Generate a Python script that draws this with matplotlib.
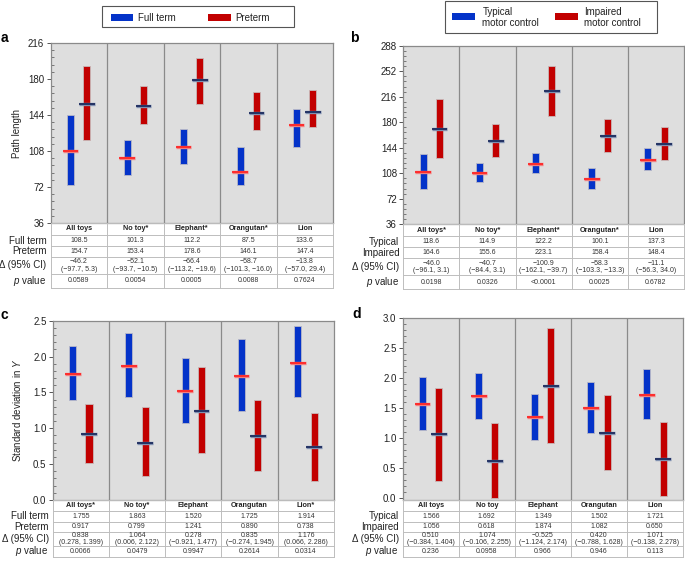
import matplotlib
matplotlib.use("Agg")
import matplotlib.pyplot as plt
from matplotlib.patches import Rectangle
from matplotlib.ticker import MultipleLocator, FormatStrFormatter

plt.rcParams['font.family'] = ['Liberation Sans', 'DejaVu Sans']
plt.rcParams['mathtext.fontset'] = 'custom'
plt.rcParams['mathtext.rm'] = 'Liberation Sans'
plt.rcParams['mathtext.it'] = 'Liberation Sans:italic'

W, H = 685, 570

# ---------------- data ----------------
# Panel a: path length, full term vs preterm
a_cats = ["All toys", "No toy*", "Elephant*", "Orangutan*", "Lion"]
a_g1_mean = [108.5, 101.3, 112.2, 87.5, 133.6]
a_g1_lo = [74, 84, 95, 74, 112]
a_g1_hi = [144, 119, 130, 112, 150]
a_g2_mean = [154.7, 153.4, 178.6, 146.1, 147.4]
a_g2_lo = [119, 135, 155, 129, 132]
a_g2_hi = [193, 173, 201, 167, 169]
a_row1 = ["108.5", "101.3", "112.2", "87.5", "133.6"]
a_row2 = ["154.7", "153.4", "178.6", "146.1", "147.4"]
a_delta = ["\u221246.2\n(\u221297.7, 5.3)", "\u221252.1\n(\u221293.7, \u221210.5)",
           "\u221266.4\n(\u2212113.2, \u221219.6)", "\u221258.7\n(\u2212101.3, \u221216.0)",
           "\u221213.8\n(\u221257.0, 29.4)"]
a_p = ["0.0589", "0.0054", "0.0005", "0.0088", "0.7624"]

# Panel b: path length, typical vs impaired motor control
b_cats = ["All toys*", "No toy*", "Elephant*", "Orangutan*", "Lion"]
b_g1_mean = [110, 109, 121, 100, 127]
b_g1_lo = [86, 95, 108, 86, 112]
b_g1_hi = [135, 123, 136, 116, 143]
b_g2_mean = [171, 153, 224, 160, 149]
b_g2_lo = [129, 131, 189, 138, 127]
b_g2_hi = [213, 177, 259, 184, 173]
b_row1 = ["118.6", "114.9", "122.2", "100.1", "137.3"]
b_row2 = ["164.6", "155.6", "223.1", "158.4", "148.4"]
b_delta = ["\u221246.0\n(\u221296.1, 3.1)", "\u221240.7\n(\u221284.4, 3.1)",
           "\u2212100.9\n(\u2212162.1, \u221239.7)", "\u221258.3\n(\u2212103.3, \u221213.3)",
           "\u221211.1\n(\u221256.3, 34.0)"]
b_p = ["0.0198", "0.0326", "<0.0001", "0.0025", "0.6782"]

# Panel c: SD in Y, full term vs preterm
c_cats = ["All toys*", "No toy*", "Elephant", "Orangutan", "Lion*"]
c_g1_mean = [1.755, 1.863, 1.520, 1.725, 1.914]
c_g1_lo = [1.40, 1.43, 1.08, 1.24, 1.43]
c_g1_hi = [2.15, 2.33, 1.98, 2.24, 2.43]
c_g2_mean = [0.917, 0.799, 1.241, 0.890, 0.738]
c_g2_lo = [0.52, 0.33, 0.65, 0.41, 0.27]
c_g2_hi = [1.34, 1.29, 1.85, 1.39, 1.22]
c_row1 = ["1.755", "1.863", "1.520", "1.725", "1.914"]
c_row2 = ["0.917", "0.799", "1.241", "0.890", "0.738"]
c_delta = ["0.838\n(0.278, 1.399)", "1.064\n(0.006, 2.122)", "0.278\n(\u22120.921, 1.477)",
           "0.835\n(\u22120.274, 1.945)", "1.176\n(0.066, 2.286)"]
c_p = ["0.0066", "0.0479", "0.9947", "0.2614", "0.0314"]

# Panel d: SD in Y, typical vs impaired motor control
d_cats = ["All toys", "No toy", "Elephant", "Orangutan", "Lion"]
d_g1_mean = [1.566, 1.692, 1.349, 1.502, 1.721]
d_g1_lo = [1.13, 1.31, 0.97, 1.08, 1.31]
d_g1_hi = [2.02, 2.09, 1.74, 1.93, 2.15]
d_g2_mean = [1.056, 0.618, 1.874, 1.082, 0.650]
d_g2_lo = [0.28, 0.0, 0.92, 0.46, 0.03]
d_g2_hi = [1.83, 1.24, 2.84, 1.71, 1.27]
d_row1 = ["1.566", "1.692", "1.349", "1.502", "1.721"]
d_row2 = ["1.056", "0.618", "1.874", "1.082", "0.650"]
d_delta = ["0.510\n(\u22120.384, 1.404)", "1.074\n(\u22120.106, 2.255)", "\u22120.525\n(\u22121.124, 2.174)",
           "0.420\n(\u22120.788, 1.628)", "1.071\n(\u22120.138, 2.278)"]
d_p = ["0.236", "0.0958", "0.966", "0.946", "0.113"]

BLUE = '#0433c9'
RED = '#c20000'
MEAN_ON_BLUE = '#ff2626'
MEAN_ON_RED = '#1c2b5e'
BG = '#dedede'
GRID = '#8a8a8a'
TXT = '#222222'

fig = plt.figure(figsize=(W / 100, H / 100), dpi=100)


def px_axes(x0, y0, x1, y1):
    return fig.add_axes([x0 / W, 1 - y1 / H, (x1 - x0) / W, (y1 - y0) / H])


def panel(rect, ylim, yticks, minor, fmt, g1, g2, table, row_labels, rows):
    x0, y0, x1, y1 = rect
    ax = px_axes(x0, y0, x1, y1)
    ax.set_facecolor(BG)
    n = len(table[0])
    ax.set_xlim(0, n)
    ax.set_ylim(*ylim)
    for s in ax.spines.values():
        s.set_color(GRID)
        s.set_linewidth(0.9)
    for k in range(1, n):
        ax.axvline(k, color=GRID, lw=0.9, zorder=1)
    xs = [i + 0.5 for i in range(n)]
    off, bw, hw = 0.145, 0.125, 0.14
    m1, lo1, hi1 = g1
    m2, lo2, hi2 = g2
    xb = [x - off for x in xs]
    xr = [x + off for x in xs]
    ax.bar(xb, [h - l for h, l in zip(hi1, lo1)], bottom=lo1, width=bw, color=BLUE,
           edgecolor='#b8b8c8', linewidth=0.6, zorder=3)
    ax.bar(xr, [h - l for h, l in zip(hi2, lo2)], bottom=lo2, width=bw, color=RED,
           edgecolor='#c8b8b8', linewidth=0.6, zorder=3)
    ax.hlines(m1, [x - hw for x in xb], [x + hw for x in xb], colors='#f08080', lw=2.4, zorder=4)
    ax.hlines(m1, [x - hw for x in xb], [x + hw for x in xb], colors=MEAN_ON_BLUE, lw=1.3, zorder=5)
    ax.hlines(m2, [x - hw for x in xr], [x + hw for x in xr], colors='#8090b0', lw=2.4, zorder=4)
    ax.hlines(m2, [x - hw for x in xr], [x + hw for x in xr], colors=MEAN_ON_RED, lw=1.3, zorder=5)
    ax.set_xticks([])
    ax.set_yticks(yticks)
    ax.yaxis.set_major_formatter(FormatStrFormatter(fmt))
    ax.yaxis.set_minor_locator(MultipleLocator(minor))
    ax.tick_params(axis='y', which='major', direction='out', length=3, width=0.7,
                   color='#555555', labelsize=7, pad=1.5, labelcolor=TXT)
    ax.tick_params(axis='y', which='minor', direction='in', length=2, width=0.6, color='#666666')

    # table
    total = rows[-1]
    tab = px_axes(x0, y1, x1, y1 + total)
    tab.set_xlim(0, n)
    tab.set_ylim(total, 0)
    tab.axis('off')
    for r in rows:
        tab.plot([0, n], [r, r], color='#bdbdbd', lw=0.7, clip_on=False)
    for k in range(n + 1):
        tab.plot([k, k], [0, total], color='#bdbdbd', lw=0.7, clip_on=False)
    cats = table[0]
    for i in range(n):
        cy = (rows[0] + rows[1]) / 2
        tab.text(i + 0.5, cy, cats[i], ha='center', va='center', fontsize=5.2,
                 fontweight='bold', color=TXT)
        for j, row in enumerate(table[1:]):
            cy = (rows[j + 1] + rows[j + 2]) / 2
            tab.text(i + 0.5, cy, row[i], ha='center', va='center', fontsize=5,
                     color='#333333', linespacing=1.1)
    lx = -4 * n / (x1 - x0)
    for j, lab in enumerate(row_labels):
        cy = (rows[j + 1] + rows[j + 2]) / 2
        tab.text(lx, cy, lab, ha='right', va='center', fontsize=7, color=TXT, clip_on=False)
    return ax


rows_top = [0, 12, 23, 34, 51, 65]
rows_bot = [0, 11, 21.5, 32, 46, 57]

panel((50.5, 43, 333, 223), (36, 216), [36, 72, 108, 144, 180, 216], 7.2, '%d',
      (a_g1_mean, a_g1_lo, a_g1_hi), (a_g2_mean, a_g2_lo, a_g2_hi),
      (a_cats, a_row1, a_row2, a_delta, a_p),
      ["Full term", "Preterm", "\u0394 (95% CI)", "$\\mathit{p}$ value"], rows_top)

panel((403.3, 45.7, 684, 224.3), (36, 288), [36, 72, 108, 144, 180, 216, 252, 288], 7.2, '%d',
      (b_g1_mean, b_g1_lo, b_g1_hi), (b_g2_mean, b_g2_lo, b_g2_hi),
      (b_cats, b_row1, b_row2, b_delta, b_p),
      ["Typical", "Impaired", "\u0394 (95% CI)", "$\\mathit{p}$ value"], rows_top)

panel((52.7, 320.7, 334, 500), (0, 2.5), [0, 0.5, 1.0, 1.5, 2.0, 2.5], 0.1, '%.1f',
      (c_g1_mean, c_g1_lo, c_g1_hi), (c_g2_mean, c_g2_lo, c_g2_hi),
      (c_cats, c_row1, c_row2, c_delta, c_p),
      ["Full term", "Preterm", "\u0394 (95% CI)", "$\\mathit{p}$ value"], rows_bot)

panel((402.7, 318.3, 683, 500), (-0.04, 3.0), [0, 0.5, 1.0, 1.5, 2.0, 2.5, 3.0], 0.1, '%.1f',
      (d_g1_mean, d_g1_lo, d_g1_hi), (d_g2_mean, d_g2_lo, d_g2_hi),
      (d_cats, d_row1, d_row2, d_delta, d_p),
      ["Typical", "Impaired", "\u0394 (95% CI)", "$\\mathit{p}$ value"], rows_bot)

# overlay in pixel coordinates for legends, letters, labels
ov = fig.add_axes([0, 0, 1, 1], zorder=10)
ov.set_xlim(0, W)
ov.set_ylim(H, 0)
ov.axis('off')
ov.patch.set_alpha(0)


def rect(x0, y0, x1, y1, **kw):
    ov.add_patch(Rectangle((x0, y0), x1 - x0, y1 - y0, **kw))


# legend a
rect(102, 6, 294, 27, facecolor='white', edgecolor='#555555', lw=0.8)
rect(111, 14.3, 133, 21, facecolor=BLUE, edgecolor='none')
ov.text(137.7, 17.7, "Full term", fontsize=7, va='center', ha='left', color=TXT)
rect(208, 14.3, 231, 21, facecolor=RED, edgecolor='none')
ov.text(235.7, 17.7, "Preterm", fontsize=7, va='center', ha='left', color=TXT)

# legend b
rect(445, 1, 656.7, 33.3, facecolor='white', edgecolor='#555555', lw=0.8)
rect(452.3, 13.3, 475, 20, facecolor=BLUE, edgecolor='none')
ov.text(482.3, 17.5, "Typical\nmotor control", fontsize=7, va='center', ha='left', color=TXT)
rect(555, 13.3, 578.3, 20, facecolor=RED, edgecolor='none')
ov.text(584.3, 17.5, "Impaired\nmotor control", fontsize=7, va='center', ha='left', color=TXT)

# panel letters
for lx, ly, s in [(0.5, 38, 'a'), (350, 38, 'b'), (0.5, 315, 'c'), (352, 314, 'd')]:
    ov.text(lx, ly, s, fontsize=10, fontweight='bold', va='center', ha='left', color='black')

# y labels
ov.text(17, 133, "Path length", fontsize=7, rotation=90, ha='center', va='center', color=TXT)
ov.text(17, 410, "Standard deviation in $\\mathit{Y}$", fontsize=7, rotation=90,
        ha='center', va='center', color=TXT)

fig.savefig("out.png", dpi=100, facecolor='white')
